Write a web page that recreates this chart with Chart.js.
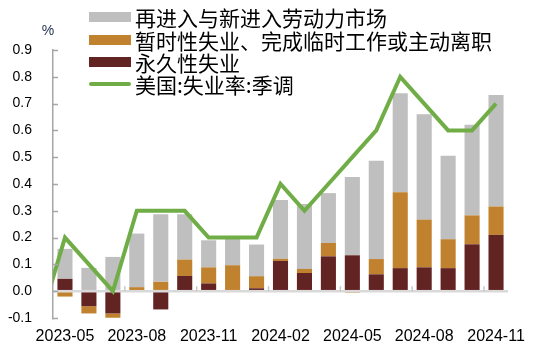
<!DOCTYPE html>
<html>
<head>
<meta charset="utf-8">
<script src="https://cdn.jsdelivr.net/npm/chart.js@4/dist/chart.umd.min.js"></script>
<style>
  html, body { margin: 0; padding: 0; background: #fff; }
  #wrap { position: relative; width: 535px; height: 353px; }
  #legend { position: absolute; left: 89px; top: 6px; font-family: "Noto Sans CJK SC", sans-serif; font-size: 21px; color: #000; }
  .row { display: flex; align-items: center; height: 22.4px; white-space: nowrap; }
  .sw { width: 42px; height: 10px; margin-right: 4px; flex: none; }
  .sw.line { height: 4px; border-radius: 2px; }
</style>
</head>
<body>
<div id="wrap">
  <canvas id="chart" width="535" height="353"></canvas>
  <div id="legend"></div>
</div>
<script>
// months (first one only feeds the clipped start of the line)
const months = ['2023-04', '2023-05', '2023-06', '2023-07', '2023-08', '2023-09', '2023-10', '2023-11', '2023-12',
    '2024-01', '2024-02', '2024-03', '2024-04', '2024-05', '2024-06', '2024-07', '2024-08', '2024-09', '2024-10', '2024-11'];

const permanent = [null, 0.046, -0.056, -0.083, 0, -0.068, 0.057, 0.029, 0, 0.011,
    0.113, 0.068, 0.13, 0.134, 0.063, 0.086, 0.089, 0.086, 0.175, 0.21];
const temporary = [null, -0.02, -0.027, -0.016, 0.015, 0.035, 0.061, 0.06, 0.097, 0.045,
    0.008, 0.015, 0.05, -0.006, 0.057, 0.283, 0.178, 0.108, 0.108, 0.106];
const reentrants = [null, 0.112, 0.087, 0.128, 0.2, 0.252, 0.169, 0.101, 0.098, 0.118,
    0.219, 0.242, 0.186, 0.292, 0.367, 0.37, 0.393, 0.311, 0.338, 0.416];
const unemploymentChange = [-0.1, 0.2, 0.1, 0.0, 0.3, 0.3, 0.3, 0.2, 0.2, 0.2,
    0.4, 0.3, 0.4, 0.5, 0.6, 0.8, 0.7, 0.6, 0.6, 0.7];

const colors = {
    reentrants: '#bfbfbf',
    temporary: '#c0822f',
    permanent: '#622323',
    line: '#70ad47',
    axis: '#a6a6a6',
    zero: '#d9d9d9'
};

const legendItems = [
    { label: '再进入与新进入劳动力市场', color: colors.reentrants },
    { label: '暂时性失业、完成临时工作或主动离职', color: colors.temporary },
    { label: '永久性失业', color: colors.permanent },
    { label: '美国:失业率:季调', color: colors.line, line: true }
];

document.getElementById('legend').innerHTML = legendItems.map(it =>
    `<div class="row"><span class="sw${it.line ? ' line' : ''}" style="background:${it.color}"></span>${it.label}</div>`
).join('');

const axisDecor = {
    id: 'axisDecor',
    afterDraw(chart) {
        const { ctx, chartArea, scales: { x, y } } = chart;
        ctx.save();
        // inward ticks on the y axis
        ctx.strokeStyle = colors.axis;
        ctx.lineWidth = 1.5;
        for (let v = -0.1; v <= 0.91; v += 0.1) {
            const py = Math.round(y.getPixelForValue(v)) + 0.5;
            ctx.beginPath();
            ctx.moveTo(chartArea.left, py);
            ctx.lineTo(chartArea.left + 5, py);
            ctx.stroke();
        }
        // small marks on the zero line, every 3 months
        const zy = y.getPixelForValue(0);
        const half = (x.getPixelForValue(2) - x.getPixelForValue(1)) / 2;
        ctx.strokeStyle = '#c8c8c8';
        ctx.lineWidth = 1.5;
        months.forEach((m, i) => {
            if (i < 2 || !['02', '05', '08', '11'].includes(m.slice(5))) return;
            const px = x.getPixelForValue(i) - half;
            ctx.beginPath();
            ctx.moveTo(px, zy);
            ctx.lineTo(px, zy - 5);
            ctx.stroke();
        });
        // unit
        ctx.fillStyle = '#1f2d4d';
        ctx.font = '14px "Liberation Sans", Arial, sans-serif';
        ctx.textAlign = 'center';
        ctx.textBaseline = 'middle';
        ctx.fillText('%', 48, 31);
        ctx.restore();
    }
};

new Chart(document.getElementById('chart').getContext('2d'), {
    type: 'bar',
    data: {
        labels: months,
        datasets: [
            {
                type: 'line',
                label: '美国:失业率:季调',
                data: unemploymentChange,
                borderColor: colors.line,
                backgroundColor: colors.line,
                borderWidth: 4,
                pointRadius: 0,
                tension: 0,
                stack: 'line',
                order: 0,
                clip: { left: 0, top: false, right: false, bottom: false }
            },
            {
                label: '永久性失业',
                data: permanent,
                backgroundColor: colors.permanent,
                stack: 'bars',
                order: 1
            },
            {
                label: '暂时性失业、完成临时工作或主动离职',
                data: temporary,
                backgroundColor: colors.temporary,
                stack: 'bars',
                order: 1
            },
            {
                label: '再进入与新进入劳动力市场',
                data: reentrants,
                backgroundColor: colors.reentrants,
                stack: 'bars',
                order: 1
            }
        ]
    },
    options: {
        responsive: false,
        animation: false,
        barPercentage: 0.63,
        categoryPercentage: 1,
        layout: { padding: { left: 0, top: 50, right: 27, bottom: 0 } },
        scales: {
            x: {
                stacked: true,
                min: '2023-05',
                offset: true,
                grid: { display: false, drawTicks: false },
                border: { display: false },
                afterFit(scale) { scale.height = 35; },
                ticks: {
                    autoSkip: false,
                    maxRotation: 0,
                    padding: 9,
                    color: '#000',
                    font: { family: '"Liberation Sans", Arial, sans-serif', size: 16 },
                    callback(value) {
                        const m = months[value];
                        return ['02', '05', '08', '11'].includes(m.slice(5)) ? m : '';
                    }
                }
            },
            y: {
                stacked: true,
                min: -0.1,
                max: 0.9,
                afterFit(scale) { scale.width = 53; },
                border: { display: true, color: colors.axis, width: 1.5 },
                grid: {
                    drawTicks: false,
                    color: ctx => (ctx.tick && Math.abs(ctx.tick.value) < 1e-9) ? colors.zero : 'rgba(0,0,0,0)',
                    lineWidth: 2.5
                },
                ticks: {
                    stepSize: 0.1,
                    padding: 21,
                    color: '#000',
                    font: { family: '"Liberation Sans", Arial, sans-serif', size: 14 },
                    callback: v => v.toFixed(1)
                }
            }
        },
        plugins: {
            legend: { display: false },
            tooltip: { enabled: false }
        }
    },
    plugins: [axisDecor]
});
</script>
</body>
</html>
